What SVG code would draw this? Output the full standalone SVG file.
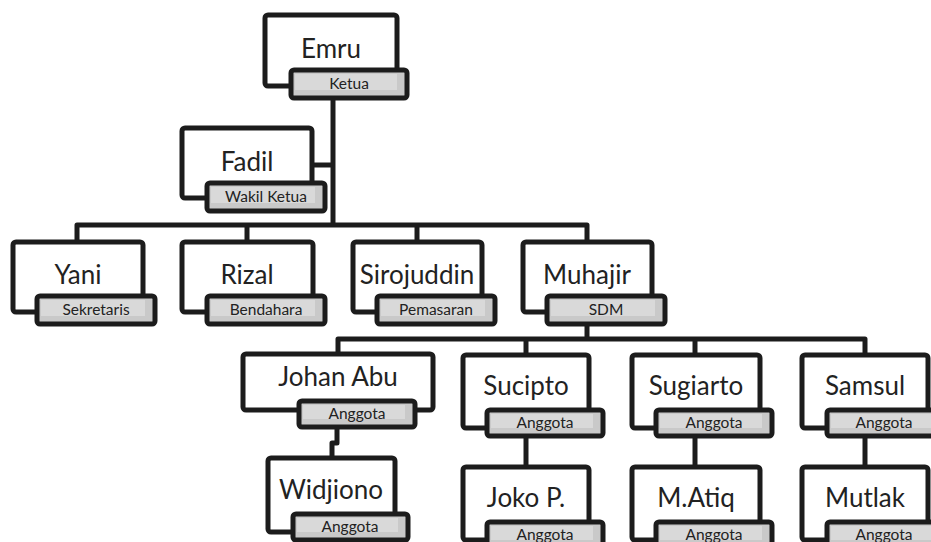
<svg xmlns="http://www.w3.org/2000/svg" width="931" height="542" viewBox="0 0 931 542">
<style>
.box{fill:#fff;stroke:#1c1c1c;stroke-width:5;}
.lbl{fill:#c9c9c9;stroke:#1c1c1c;stroke-width:5;}
.lin{fill:#d9d9d9;}
.name{font-family:Lato,"Open Sans",sans-serif;font-size:26px;fill:#222;text-anchor:middle;}
.role{font-family:Lato,"Open Sans",sans-serif;font-size:15.5px;fill:#222;text-anchor:middle;}
.con{fill:none;stroke:#1c1c1c;stroke-width:5;stroke-linejoin:round;}
</style>
<g id="connectors" class="con">
<path d="M333,98 V225"/>
<path d="M312,165 H333"/>
<path d="M77,242 V225 H587 V242"/>
<path d="M247,225 V242"/>
<path d="M417,225 V242"/>
<path d="M587,324 V339"/>
<path d="M338,354 V339 H865 V355"/>
<path d="M526,339 V355"/>
<path d="M695,339 V355"/>
<path d="M337,427 V443 H332 V458"/>
<path d="M526,436 V467"/>
<path d="M695,436 V467"/>
<path d="M865,436 V467"/>
</g>
<g id="emru">
<rect class="box" x="265" y="15" width="132" height="71" rx="3"/>
<rect class="lbl" x="291" y="70" width="116" height="28" rx="3"/>
<rect class="lin" x="295" y="74" width="102" height="16"/>
<text class="name" x="331" y="58">Emru</text>
<text class="role" x="349" y="89">Ketua</text>
</g>
<g id="fadil">
<rect class="box" x="182" y="128" width="130" height="70" rx="3"/>
<rect class="lbl" x="207" y="183" width="118" height="28" rx="3"/>
<rect class="lin" x="211" y="187" width="104" height="16"/>
<text class="name" x="247" y="171">Fadil</text>
<text class="role" x="266" y="202">Wakil Ketua</text>
</g>
<g id="yani">
<rect class="box" x="13" y="242" width="130" height="70" rx="3"/>
<rect class="lbl" x="37" y="296" width="118" height="28" rx="3"/>
<rect class="lin" x="41" y="300" width="104" height="16"/>
<text class="name" x="78" y="284">Yani</text>
<text class="role" x="96" y="315">Sekretaris</text>
</g>
<g id="rizal">
<rect class="box" x="182" y="242" width="131" height="70" rx="3"/>
<rect class="lbl" x="207" y="296" width="118" height="28" rx="3"/>
<rect class="lin" x="211" y="300" width="104" height="16"/>
<text class="name" x="247" y="284">Rizal</text>
<text class="role" x="266" y="315">Bendahara</text>
</g>
<g id="sirojuddin">
<rect class="box" x="353" y="242" width="129" height="70" rx="3"/>
<rect class="lbl" x="377" y="296" width="118" height="28" rx="3"/>
<rect class="lin" x="381" y="300" width="104" height="16"/>
<text class="name" x="417" y="284">Sirojuddin</text>
<text class="role" x="436" y="315">Pemasaran</text>
</g>
<g id="muhajir">
<rect class="box" x="523" y="242" width="129" height="70" rx="3"/>
<rect class="lbl" x="547" y="296" width="118" height="28" rx="3"/>
<rect class="lin" x="551" y="300" width="104" height="16"/>
<text class="name" x="587" y="284">Muhajir</text>
<text class="role" x="606" y="315">SDM</text>
</g>
<g id="johan">
<rect class="box" x="243" y="354" width="190" height="56" rx="3"/>
<rect class="lbl" x="299" y="401" width="116" height="26" rx="3"/>
<rect class="lin" x="303" y="405" width="102" height="14"/>
<text class="name" x="338" y="386">Johan Abu</text>
<text class="role" x="357" y="419">Anggota</text>
</g>
<g id="widjiono">
<rect class="box" x="268" y="458" width="127" height="74" rx="3"/>
<rect class="lbl" x="293" y="514" width="115" height="26" rx="3"/>
<rect class="lin" x="297" y="518" width="101" height="14"/>
<text class="name" x="331" y="499">Widjiono</text>
<text class="role" x="350" y="532">Anggota</text>
</g>
<g id="sucipto">
<rect class="box" x="463" y="355" width="126" height="73" rx="3"/>
<rect class="lbl" x="487" y="410" width="116" height="26" rx="3"/>
<rect class="lin" x="491" y="414" width="102" height="14"/>
<text class="name" x="526" y="395">Sucipto</text>
<text class="role" x="545" y="428">Anggota</text>
</g>
<g id="sugiarto">
<rect class="box" x="632" y="355" width="128" height="73" rx="3"/>
<rect class="lbl" x="656" y="410" width="116" height="26" rx="3"/>
<rect class="lin" x="660" y="414" width="102" height="14"/>
<text class="name" x="696" y="395">Sugiarto</text>
<text class="role" x="714" y="428">Anggota</text>
</g>
<g id="samsul">
<rect class="box" x="802" y="355" width="126" height="73" rx="3"/>
<rect class="lbl" x="827" y="410" width="116" height="26" rx="3"/>
<rect class="lin" x="831" y="414" width="102" height="14"/>
<text class="name" x="865" y="395">Samsul</text>
<text class="role" x="884" y="428">Anggota</text>
</g>
<g id="joko">
<rect class="box" x="463" y="467" width="126" height="73" rx="3"/>
<rect class="lbl" x="487" y="522" width="116" height="26" rx="3"/>
<rect class="lin" x="491" y="526" width="102" height="14"/>
<text class="name" x="526" y="507">Joko P.</text>
<text class="role" x="545" y="540">Anggota</text>
</g>
<g id="matiq">
<rect class="box" x="632" y="467" width="128" height="73" rx="3"/>
<rect class="lbl" x="656" y="522" width="116" height="26" rx="3"/>
<rect class="lin" x="660" y="526" width="102" height="14"/>
<text class="name" x="696" y="507">M.Atiq</text>
<text class="role" x="714" y="540">Anggota</text>
</g>
<g id="mutlak">
<rect class="box" x="802" y="467" width="126" height="73" rx="3"/>
<rect class="lbl" x="827" y="522" width="116" height="26" rx="3"/>
<rect class="lin" x="831" y="526" width="102" height="14"/>
<text class="name" x="865" y="507">Mutlak</text>
<text class="role" x="884" y="540">Anggota</text>
</g>
</svg>
